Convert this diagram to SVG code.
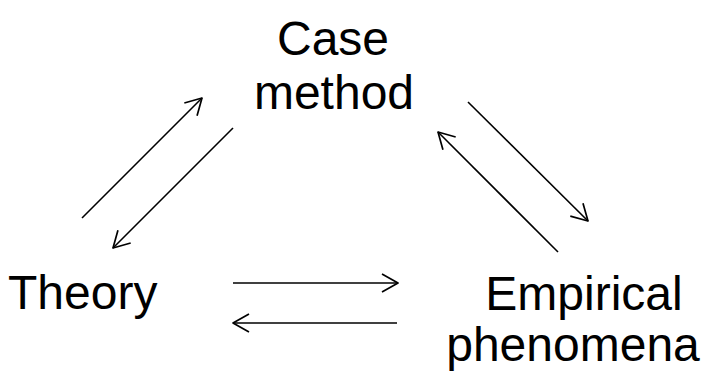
<svg xmlns="http://www.w3.org/2000/svg" width="711" height="372" viewBox="0 0 711 372">
<style>
.lbl{font-family:"Liberation Sans",Arial,sans-serif;font-size:48px;fill:#000;}
.ln{stroke:#000;stroke-width:1.6;fill:none;marker-end:url(#ah);}
</style>
<defs>
<marker id="ah" viewBox="-1 -1 18 20" refX="16" refY="9" markerWidth="18" markerHeight="20" markerUnits="userSpaceOnUse" orient="auto">
<path d="M0,0 L16,9 L0,18" fill="none" stroke="#000" stroke-width="1.7" stroke-linejoin="round"/>
</marker>
</defs>
<rect width="711" height="372" fill="#fff"/>
<g id="case-method">
<text class="lbl" x="333" y="55" text-anchor="middle">Case</text>
<text class="lbl" x="334" y="109" text-anchor="middle">method</text>
</g>
<g id="theory">
<text class="lbl" x="8" y="309">Theory</text>
</g>
<g id="empirical">
<text class="lbl" x="584" y="310" text-anchor="middle">Empirical</text>
<text class="lbl" x="573" y="361" text-anchor="middle">phenomena</text>
</g>
<g id="connectors">
<line class="ln" x1="82" y1="218" x2="202" y2="98"/>
<line class="ln" x1="233" y1="128" x2="113" y2="248"/>
<line class="ln" x1="468" y1="102" x2="588" y2="221"/>
<line class="ln" x1="558" y1="252" x2="438" y2="132"/>
<line class="ln" x1="233" y1="283" x2="398" y2="283"/>
<line class="ln" x1="397" y1="323" x2="233" y2="323"/>
</g>
</svg>
